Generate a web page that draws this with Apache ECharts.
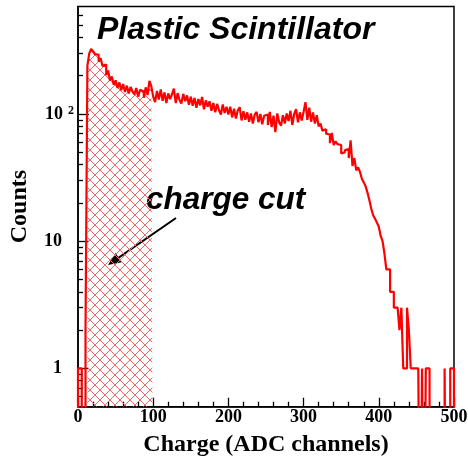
<!DOCTYPE html>
<html><head><meta charset="utf-8">
<script src="https://cdn.jsdelivr.net/npm/echarts@6/dist/echarts.min.js"></script>
<style>html,body{margin:0;padding:0;background:#fff}#c{width:468px;height:462px}</style>
</head><body><div id="c"></div>
<script>
// ---- data ----
const binStart = 0;
const binWidth = 2.5;
const counts = [
  1,1,0,0,2,240,300,325,312,296,
  292,258,276,239,245,203,220,183,197,170,
  184,160,177,154,172,149,167,145,163,150,
  143,160,137,155,150,134,162,141,182,165,
  137,124,152,130,156,127,148,122,145,131,
  143,158,122,146,129,121,144,126,140,118,
  137,116,134,112,131,117,136,109,128,114,
  126,106,122,103,120,107,99,119,102,114,
  99,114,94,110,92,107,113,89,105,90,
  103,87,101,84,99,104,86,100,83,97,
  99,82,104,79,97,72,101,86,81,98,
  84,101,88,106,82,100,109,86,103,89,
  104,124,90,112,87,103,84,98,80,84,
  74,76,70,69,59,71,57,61,58,57,
  49,50,52,53,45,62,39,45,36,38,
  35,31,29,27,24,21,18,16,15,14,
  13,11,10,8,6,6,4,4,3,3,
  3,2,3,1,1,3,2,1,1,1,
  1,1,0,1,0,1,1,0,0,0,
  0,0,0,0,0,1,0,0,1,1
];
const cutRange = [12.5, 100];
const xTicks = [0, 100, 200, 300, 400, 500];
const yMajor = [1, 10, 100];
const yMinor = [0.6,0.7,0.8,0.9,2,3,4,5,6,7,8,9,20,30,40,50,60,70,80,90,200,300,400,500,600];
const titleText = 'Plastic Scintillator';
const noteText = 'charge cut';
const xName = 'Charge (ADC channels)';
const yName = 'Counts';

// ---- build ----
const FLOOR = 0.01;
function stepData(lo, hi) {
  const pts = [];
  for (let i = 0; i < counts.length; i++) {
    const x0 = binStart + i * binWidth;
    if (x0 < lo || x0 >= hi) continue;
    if (pts.length === 0) pts.push([x0, FLOOR]);
    pts.push([x0, counts[i] > 0 ? counts[i] : FLOOR]);
  }
  const last = pts[pts.length - 1];
  const xEnd = last[0] + binWidth;
  pts.push([xEnd, last[1]]);
  pts.push([xEnd, FLOOR]);
  return pts;
}
const T = 10;
const pc = document.createElement('canvas');
pc.width = T; pc.height = T;
const g = pc.getContext('2d');
g.strokeStyle = '#e86a6a'; g.lineWidth = 1;
g.beginPath(); g.moveTo(0,0); g.lineTo(T,T); g.moveTo(T,0); g.lineTo(0,T); g.stroke();

const serif = '"Liberation Serif", "DejaVu Serif", serif';
const sans = '"Liberation Sans", Arial, sans-serif';

// arrow geometry (annotation)
const aS = [176, 218], aE = [108, 265];
const dx = aE[0]-aS[0], dy = aE[1]-aS[1], L = Math.hypot(dx, dy);
const ux = dx/L, uy = dy/L, hl = 13, hw = 5.5;
const bx = aE[0]-ux*hl, by = aE[1]-uy*hl;

const tickStyle = { color: '#000', width: 1.3 };
const chart = echarts.init(document.getElementById('c'));
chart.setOption({
  animation: false,
  grid: { left: 78, right: 14, top: 6.5, bottom: 55.3, outerBoundsMode: 'none', containLabel: false,
          show: true, borderColor: '#000', borderWidth: 1.5, backgroundColor: 'transparent' },
  xAxis: {
    type: 'value', min: xTicks[0], max: xTicks[xTicks.length-1], interval: 100,
    axisLine: { show: true, onZero: false, lineStyle: { color: '#000', width: 1.5 } },
    axisTick: { show: true, inside: true, length: 9, lineStyle: tickStyle },
    minorTick: { show: true, splitNumber: 5, length: 5, lineStyle: tickStyle },
    splitLine: { show: false },
    axisLabel: { fontFamily: serif, fontWeight: 'bold', fontSize: 18, color: '#000', margin: 2 },
    name: xName, nameLocation: 'middle', nameGap: 26,
    nameTextStyle: { fontFamily: serif, fontWeight: 'bold', fontSize: 24, color: '#000' }
  },
  yAxis: [{
    type: 'log', min: 0.5, max: 700, position: 'left',
    axisLine: { show: true, lineStyle: { color: '#000', width: 1.5 } },
    axisTick: { show: true, inside: true, length: 11, customValues: yMajor, lineStyle: tickStyle },
    splitLine: { show: false },
    axisLabel: {
      customValues: yMajor, margin: 4, color: '#000',
      fontFamily: serif, fontWeight: 'bold', fontSize: 18, lineHeight: 18,
      formatter: v => (Math.abs(v - 100) < 1e-6) ? '10{sup|2}' : String(Math.round(v)) + '{sp| }',
      rich: {
        sup: { fontFamily: serif, fontWeight: 'bold', fontSize: 12, lineHeight: 12, verticalAlign: 'top', padding: [0,0,0,5], color: '#000' },
        sp: { width: 12 }
      }
    },
    name: yName, nameLocation: 'middle', nameGap: 46, nameRotate: 90,
    nameTextStyle: { fontFamily: serif, fontWeight: 'bold', fontSize: 24, color: '#000' }
  }, {
    type: 'log', min: 0.5, max: 700, position: 'left', offset: 0,
    axisLine: { show: false },
    axisTick: { show: true, inside: true, length: 5, customValues: yMinor, lineStyle: tickStyle },
    axisLabel: { show: false },
    splitLine: { show: false }
  }],
  series: [{
    type: 'line', step: 'end', data: stepData(cutRange[0], cutRange[1]),
    showSymbol: false, symbol: 'none', clip: true,
    lineStyle: { width: 0, opacity: 0 },
    areaStyle: { color: { image: pc, repeat: 'repeat' }, opacity: 1 },
    z: 1
  }, {
    type: 'line', step: 'end', data: stepData(-1, 1e9),
    showSymbol: false, symbol: 'none', clip: true,
    lineStyle: { color: '#ff0000', width: 2.2 },
    z: 2
  }],
  graphic: [
    { type: 'text', x: 97, y: 14, style: { text: titleText, font: 'italic bold 32px ' + sans, fill: '#000' } },
    { type: 'text', x: 146, y: 184, style: { text: noteText, font: 'italic bold 31.5px ' + sans, fill: '#000' } },
    { type: 'line', shape: { x1: aS[0], y1: aS[1], x2: bx, y2: by }, style: { stroke: '#000', lineWidth: 2 } },
    { type: 'polygon', shape: { points: [aE, [bx + uy*hw, by - ux*hw], [bx - uy*hw, by + ux*hw]] }, style: { fill: '#000' } }
  ]
});
</script></body></html>
